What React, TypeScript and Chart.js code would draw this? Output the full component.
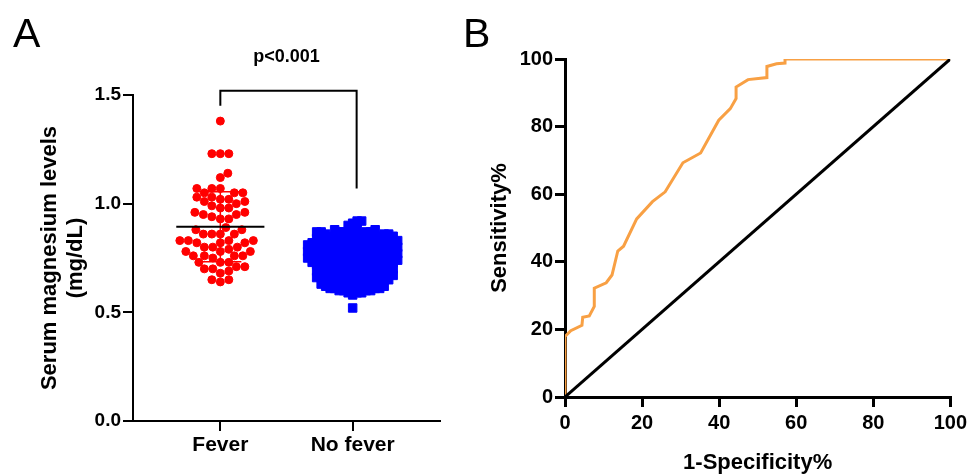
import React, { useEffect, useRef } from 'react';
import { Chart, registerables } from 'chart.js';

Chart.register(...registerables);

// ---------- Panel A data ----------
const groups = ['Fever', 'No fever'];
const feverValues = [
  1.38, 1.23, 1.23, 1.23, 1.14, 1.12, 1.07, 1.07, 1.07, 1.05, 1.05, 1.05,
  1.01, 1.02, 1.0, 1.02, 1.03, 1.03, 1.01, 0.98, 0.99, 0.98, 0.96, 0.96,
  0.95, 0.95, 0.93, 0.93, 0.94, 0.89, 0.86, 0.86, 0.86, 0.88, 0.88, 0.86,
  0.82, 0.82, 0.83, 0.82, 0.83, 0.83, 0.83, 0.78, 0.78, 0.79, 0.8, 0.8,
  0.8, 0.78, 0.76, 0.76, 0.75, 0.76, 0.76, 0.73, 0.73, 0.73, 0.71, 0.7,
  0.7, 0.71, 0.69, 0.68, 0.65, 0.65, 0.64,
];
// No-fever group as a frequency table (level, number of patients at that level)
const noFeverLevels = [
  0.92, 0.91, 0.9, 0.89, 0.88, 0.87, 0.86, 0.85, 0.84, 0.83, 0.82, 0.81,
  0.8, 0.79, 0.78, 0.77, 0.76, 0.75, 0.74, 0.73, 0.72, 0.71, 0.7, 0.69,
  0.68, 0.67, 0.66, 0.65, 0.64, 0.63, 0.62, 0.61, 0.6, 0.59, 0.58, 0.52,
];
const noFeverCounts = [
  2, 1, 1, 1, 3, 6, 6, 6, 6, 7, 7, 7,
  7, 7, 7, 7, 7, 7, 7, 7, 6, 6, 6, 6,
  6, 6, 6, 6, 5, 5, 5, 5, 4, 3, 1, 1,
];
const noFeverValues: number[] = noFeverLevels.flatMap((v, i) => Array(noFeverCounts[i]).fill(v));

const yTicksA = [0, 0.5, 1.0, 1.5];
const pValueLabel = 'p<0.001';
const bracketX = [1, 1, 2.03, 2.03];
const bracketY = [1.45, 1.52, 1.52, 1.07];

// ---------- Panel B data ----------
const rocFpr = [
  0, 0, 1.5, 4.4, 4.6, 6.3, 7.6, 7.6, 10.7, 12.2, 13.7, 15.2, 18.6, 22.7,
  26.0, 30.6, 35.2, 39.9, 42.9, 44.4, 44.4, 47.5, 52.4, 52.4, 54.9, 57.1,
  57.1, 100,
];
const rocSens = [
  0, 17.9, 19.6, 21.2, 23.6, 24.0, 26.8, 32.2, 33.8, 36.1, 43.2, 44.6, 52.7,
  57.8, 60.7, 69.3, 72.2, 81.9, 85.3, 88.3, 91.7, 93.9, 94.5, 97.8, 98.6,
  98.8, 100, 100,
];
const refLine = [0, 100];
const ticksB = [0, 20, 40, 60, 80, 100];

const FONT = '"Liberation Sans", Arial, "DejaVu Sans", sans-serif';
const RED = '#FF0000';
const BLUE = '#0000FF';
const ORANGE = '#F8A044';

const mean = (a: number[]) => a.reduce((s, v) => s + v, 0) / a.length;
const sd = (a: number[]) => {
  const m = mean(a);
  return Math.sqrt(a.reduce((s, v) => s + (v - m) ** 2, 0) / (a.length - 1));
};

function swarm(values: number[], yPx: (v: number) => number, minD: number, square: boolean): number[] {
  const order = values.map((_, i) => i).sort((a, b) => values[a] - values[b]);
  const placed: { x: number; y: number }[] = [];
  const out = new Array(values.length).fill(0);
  for (const i of order) {
    const y = yPx(values[i]);
    let chosen = 0;
    for (let k = 0; k < 600; k++) {
      const dx = (k % 2 === 1 ? 1 : -1) * Math.ceil(k / 2) * 0.5;
      const ok = placed.every((p) =>
        square
          ? Math.abs(p.x - dx) >= minD || Math.abs(p.y - y) >= minD
          : (p.x - dx) ** 2 + (p.y - y) ** 2 >= minD * minD
      );
      if (ok) {
        chosen = dx;
        break;
      }
    }
    placed.push({ x: chosen, y });
    out[i] = chosen;
  }
  return out;
}

function errData(cx: number, m: number, s: number, cap: number) {
  return [
    { x: cx - cap, y: m + s },
    { x: cx + cap, y: m + s },
    { x: cx, y: null },
    { x: cx, y: m + s },
    { x: cx, y: m - s },
    { x: cx, y: null },
    { x: cx - cap, y: m - s },
    { x: cx + cap, y: m - s },
  ];
}

export default function App() {
  const aRef = useRef<HTMLCanvasElement>(null);
  const bRef = useRef<HTMLCanvasElement>(null);

  useEffect(() => {
    const mF = mean(feverValues);
    const sF = sd(feverValues);
    const mN = mean(noFeverValues);
    const sN = sd(noFeverValues);
    const meanHalf = 0.333;
    const capHalf = 0.159;

    const tickFontA = { family: FONT, size: 19, weight: 'bold' as const };

    const annotA = {
      id: 'annotA',
      afterDraw(chart: any) {
        const { ctx, scales } = chart;
        ctx.save();
        ctx.fillStyle = '#000';
        ctx.font = `bold 18px ${FONT}`;
        ctx.textAlign = 'center';
        ctx.textBaseline = 'middle';
        ctx.fillText(pValueLabel, scales.x.getPixelForValue(1.5), scales.y.getPixelForValue(1.674));
        ctx.font = `41px ${FONT}`;
        ctx.textAlign = 'left';
        ctx.textBaseline = 'alphabetic';
        ctx.fillText('A', 13, 47);
        ctx.restore();
      },
    };

    const chartA = new Chart(aRef.current!, {
      type: 'scatter',
      data: {
        datasets: [
          {
            type: 'line',
            label: 'bracket',
            data: bracketX.map((x, i) => ({ x, y: bracketY[i] })),
            borderColor: '#000',
            borderWidth: 2,
            pointRadius: 0,
            showLine: true,
            clip: false,
            order: 0,
          } as any,
          {
            type: 'line',
            label: 'fever mean',
            data: [
              { x: 1 - meanHalf, y: mF },
              { x: 1 + meanHalf, y: mF },
            ],
            borderColor: '#000',
            borderWidth: 2,
            pointRadius: 0,
            showLine: true,
            order: 1,
          },
          {
            type: 'line',
            label: 'fever sd',
            data: errData(1, mF, sF, capHalf) as any,
            borderColor: RED,
            borderWidth: 1.5,
            pointRadius: 0,
            showLine: true,
            spanGaps: false,
            order: 2,
          },
          {
            type: 'scatter',
            label: groups[0],
            data: feverValues.map((v) => ({ x: 1, y: v })),
            backgroundColor: RED,
            borderColor: RED,
            borderWidth: 1,
            pointRadius: 4,
            pointStyle: 'circle',
            showLine: false,
            order: 3,
          },
          {
            type: 'scatter',
            label: groups[1],
            data: noFeverValues.map((v) => ({ x: 2, y: v })),
            backgroundColor: BLUE,
            borderColor: BLUE,
            borderWidth: 1,
            pointRadius: 6,
            pointStyle: 'rect',
            showLine: false,
            order: 4,
          },
          {
            type: 'line',
            label: 'no fever sd',
            data: errData(2, mN, sN, capHalf) as any,
            borderColor: BLUE,
            borderWidth: 1.5,
            pointRadius: 0,
            showLine: true,
            spanGaps: false,
            order: 5,
          },
          {
            type: 'line',
            label: 'no fever mean',
            data: [
              { x: 2 - meanHalf, y: mN },
              { x: 2 + meanHalf, y: mN },
            ],
            borderColor: '#000',
            borderWidth: 2,
            pointRadius: 0,
            showLine: true,
            order: 6,
          },
        ],
      },
      options: {
        animation: false,
        responsive: false,
        devicePixelRatio: 1,
        layout: { padding: { left: 0, top: 95, right: 20, bottom: 0 } },
        plugins: { legend: { display: false }, tooltip: { enabled: false } },
        scales: {
          x: {
            type: 'linear',
            min: 0.34,
            max: 2.66,
            afterBuildTicks: (s: any) => {
              s.ticks = [{ value: 1 }, { value: 2 }];
            },
            ticks: {
              callback: (v: any) => (v === 1 ? groups[0] : v === 2 ? groups[1] : ''),
              font: { family: FONT, size: 21, weight: 'bold' },
              color: '#000',
              padding: 2,
              maxRotation: 0,
              autoSkip: false,
            },
            grid: { drawOnChartArea: false, tickLength: 10, color: '#000', lineWidth: 2 },
            border: { color: '#000', width: 2 },
            afterFit: (s: any) => {
              s.height = 53;
            },
          },
          y: {
            type: 'linear',
            min: 0,
            max: 1.5,
            afterBuildTicks: (s: any) => {
              s.ticks = yTicksA.map((value) => ({ value }));
            },
            ticks: {
              callback: (v: any) => Number(v).toFixed(1),
              font: tickFontA,
              color: '#000',
              padding: 2,
            },
            grid: { drawOnChartArea: false, tickLength: 10, color: '#000', lineWidth: 2 },
            border: { color: '#000', width: 2 },
            title: {
              display: true,
              text: ['Serum magnesium levels', '(mg/dL)'],
              font: { family: FONT, size: 22, weight: 'bold', lineHeight: 1.18 },
              color: '#000',
              padding: { top: 37, bottom: 0 },
            },
            afterFit: (s: any) => {
              s.width = 133;
            },
          },
        },
      },
      plugins: [annotA],
    });

    // beeswarm layout computed from the values through the chart's scales
    const xs = chartA.scales.x;
    const ys = chartA.scales.y;
    const ppu = xs.getPixelForValue(2) - xs.getPixelForValue(1);
    const fOff = swarm(feverValues, (v) => ys.getPixelForValue(v), 8.3, false);
    const nOff = swarm(noFeverValues, (v) => ys.getPixelForValue(v), 4.35, true);
    chartA.data.datasets[3].data = feverValues.map((v, i) => ({ x: 1 + fOff[i] / ppu, y: v }));
    chartA.data.datasets[4].data = noFeverValues.map((v, i) => ({ x: 2 + nOff[i] / ppu, y: v }));
    chartA.update();

    const tickFontB = { family: FONT, size: 20, weight: 'bold' as const };
    const labelB = {
      id: 'labelB',
      afterDraw(chart: any) {
        const { ctx } = chart;
        ctx.save();
        ctx.fillStyle = '#000';
        ctx.font = `41px ${FONT}`;
        ctx.textAlign = 'left';
        ctx.textBaseline = 'alphabetic';
        ctx.fillText('B', 3, 47);
        ctx.restore();
      },
    };

    const chartB = new Chart(bRef.current!, {
      type: 'line',
      data: {
        datasets: [
          {
            label: 'ROC',
            data: rocFpr.map((x, i) => ({ x, y: rocSens[i] })),
            borderColor: ORANGE,
            borderWidth: 3,
            pointRadius: 0,
            tension: 0,
            order: 1,
          },
          {
            label: 'Reference',
            data: refLine.map((v) => ({ x: v, y: v })),
            borderColor: '#000',
            borderWidth: 3,
            pointRadius: 0,
            tension: 0,
            order: 0,
          },
        ],
      },
      options: {
        animation: false,
        responsive: false,
        devicePixelRatio: 1,
        layout: { padding: { left: 0, top: 59, right: 18, bottom: 0 } },
        plugins: { legend: { display: false }, tooltip: { enabled: false } },
        scales: {
          x: {
            type: 'linear',
            min: 0,
            max: 100,
            afterBuildTicks: (s: any) => {
              s.ticks = ticksB.map((value) => ({ value }));
            },
            ticks: { font: tickFontB, color: '#000', padding: 4, maxRotation: 0, autoSkip: false },
            grid: { drawOnChartArea: false, tickLength: 10, color: '#000', lineWidth: 3 },
            border: { color: '#000', width: 3 },
            title: {
              display: true,
              text: '1-Specificity%',
              font: { family: FONT, size: 22, weight: 'bold', lineHeight: 1 },
              color: '#000',
              padding: { top: 0, bottom: 0 },
            },
            afterFit: (s: any) => {
              s.height = 77;
            },
          },
          y: {
            type: 'linear',
            min: 0,
            max: 100,
            afterBuildTicks: (s: any) => {
              s.ticks = ticksB.map((value) => ({ value }));
            },
            ticks: { font: tickFontB, color: '#000', padding: 2 },
            grid: { drawOnChartArea: false, tickLength: 10, color: '#000', lineWidth: 3 },
            border: { color: '#000', width: 3 },
            title: {
              display: true,
              text: 'Sensitivity%',
              font: { family: FONT, size: 22, weight: 'bold', lineHeight: 1.2 },
              color: '#000',
              padding: { top: 27, bottom: 0 },
            },
            afterFit: (s: any) => {
              s.width = 105;
            },
          },
        },
      },
      plugins: [labelB],
    });

    return () => {
      chartA.destroy();
      chartB.destroy();
    };
  }, []);

  return (
    <div style={{ position: 'absolute', left: 0, top: 0, width: 971, height: 474, background: '#fff' }}>
      <canvas ref={aRef} width={460} height={474} style={{ position: 'absolute', left: 0, top: 0 }} />
      <canvas ref={bRef} width={511} height={474} style={{ position: 'absolute', left: 460, top: 0 }} />
    </div>
  );
}
